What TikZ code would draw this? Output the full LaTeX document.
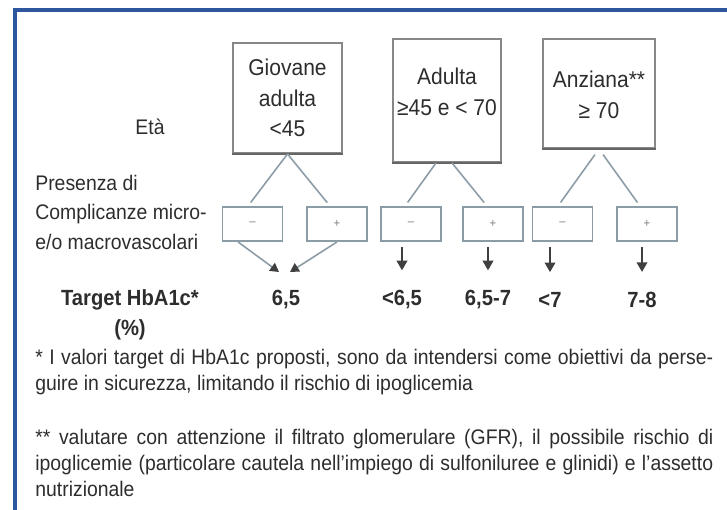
\documentclass[tikz,border=0pt]{standalone}
\usepackage{fontspec}
\setmainfont[FakeStretch=0.92]{Liberation Sans}
\usepackage{tikz}
\usetikzlibrary{arrows.meta}

\definecolor{frameblue}{RGB}{46,86,158}
\definecolor{boxgray}{RGB}{135,135,135}
\definecolor{linkgray}{RGB}{140,156,166}
\definecolor{txtgray}{RGB}{45,45,45}

\newcommand{\fullline}[1]{\makebox[13.56cm][s]{#1}}

\tikzset{
  agebox/.style={draw=boxgray, line width=1.1pt, fill=white, inner sep=0pt},
  agetext/.style={align=center, text=txtgray, font=\fontsize{13}{17.4}\selectfont},
  signbox/.style={draw=linkgray, line width=1.1pt, minimum width=1.2cm,
    minimum height=0.68cm, inner sep=0pt, text=gray, font=\scriptsize},
  link/.style={draw=linkgray, line width=0.9pt, shorten >=2.5pt},
  conv/.style={draw=linkgray, line width=0.9pt,
    -{Triangle[width=5.5pt,length=5pt,color=black!75]}},
  downarr/.style={draw=black!75, line width=1.1pt, shorten <=3pt, shorten >=8pt,
    -{Triangle[width=6pt,length=5.5pt]}},
  lbl/.style={text=txtgray, font=\fontsize{12}{16.8}\selectfont},
  target/.style={text=txtgray, font=\fontsize{12.5}{17}\selectfont\bfseries},
  note/.style={text=txtgray, align=left, inner sep=0pt, anchor=north west,
    font=\fontsize{12}{14.8}\selectfont}
}

\begin{document}
\begin{tikzpicture}[x=0.02cm, y=-0.02cm]
  \useasboundingbox (0,0) rectangle (727,510);

  % cornice
  \draw[frameblue, line width=0.08cm] (15,510) -- (15,10) -- (727,10);

  % fasce di eta
  \node[agebox, minimum width=2.18cm, minimum height=2.2cm] (giovane) at (287.5,98) {};
  \node[agebox, minimum width=2.16cm, minimum height=2.46cm] (adulta) at (447,100.5) {};
  \node[agebox, minimum width=2.24cm, minimum height=2.18cm] (anziana) at (599,93.5) {};
  \draw[black!60, line width=1.6pt] (giovane.south west) -- (giovane.south east);
  \draw[black!60, line width=1.6pt] (adulta.south west) -- (adulta.south east);
  \draw[black!60, line width=1.6pt] (anziana.south west) -- (anziana.south east);

  \node[agetext] (giovanelbl) at (287.5,98) {Giovane\\adulta\\<45};
  \node[agetext] (adultalbl) at (447,92) {Adulta\\≥45 e < 70};
  \node[agetext] (anzianalbl) at (599,95) {Anziana**\\≥ 70};

  % etichette a sinistra
  \node[lbl] (eta) at (150,127) {Età};
  \node[lbl, anchor=west, align=left, inner sep=0pt] (complic) at (35,212)
    {Presenza di\\Complicanze micro-\\e/o macrovascolari};
  \node[target, align=center] (tgtlbl) at (130,315) {Target HbA1c*\\(\%)};

  % complicanze - / +
  \node[signbox] (sa) at (252.5,224) {--};
  \node[signbox] (sb) at (337,224) {+};
  \node[signbox] (sc) at (411,224) {--};
  \node[signbox] (sd) at (493,224) {+};
  \node[signbox] (se) at (562.5,224) {--};
  \node[signbox] (sf) at (647,224) {+};

  \draw[link] (giovane.south) -- ([xshift=-0.09cm]sa.north);
  \draw[link] (giovane.south) -- ([xshift=-0.14cm]sb.north);
  \draw[link] ([xshift=-0.22cm]adulta.south) -- ([xshift=-0.12cm]sc.north);
  \draw[link] ([xshift=0.1cm]adulta.south) -- ([xshift=-0.12cm]sd.north);
  \draw[link, shorten <=4pt] (anziana.south) -- ([xshift=-0.09cm]se.north);
  \draw[link, shorten <=4pt] (anziana.south) -- ([xshift=-0.14cm]sf.north);

  % target HbA1c
  \node[target] (t1) at (286,300) {6,5};
  \node[target] (t2) at (402,300) {<6,5};
  \node[target] (t3) at (488,300) {6,5-7};
  \node[target] (t4) at (550,300) {<7};
  \node[target] (t5) at (642,300) {7-8};

  \coordinate (m1) at (279,272);
  \coordinate (m2) at (290,272);
  \draw[conv] ([xshift=-0.29cm]sa.south) -- (m1);
  \draw[conv] (sb.south) -- (m2);
  \draw[downarr] (sc.south -| t2) -- (t2.north);
  \draw[downarr] (sd.south -| t3) -- (t3.north);
  \draw[downarr] (se.south -| t4) -- (t4.north);
  \draw[downarr] (sf.south -| t5) -- (t5.north);

  % note
  \node[note] (note1) at (35,349) {%
    \fullline{* I valori target di HbA1c proposti, sono da intendersi come obiettivi da perse-}\\
    guire in sicurezza, limitando il rischio di ipoglicemia};
  \node[note] (note2) at (35,429) {%
    \fullline{** valutare con attenzione il filtrato glomerulare (GFR), il possibile rischio di}\\
    \fullline{ipoglicemie (particolare cautela nell'impiego di sulfoniluree e glinidi) e l'assetto}\\
    nutrizionale};
\end{tikzpicture}
\end{document}
